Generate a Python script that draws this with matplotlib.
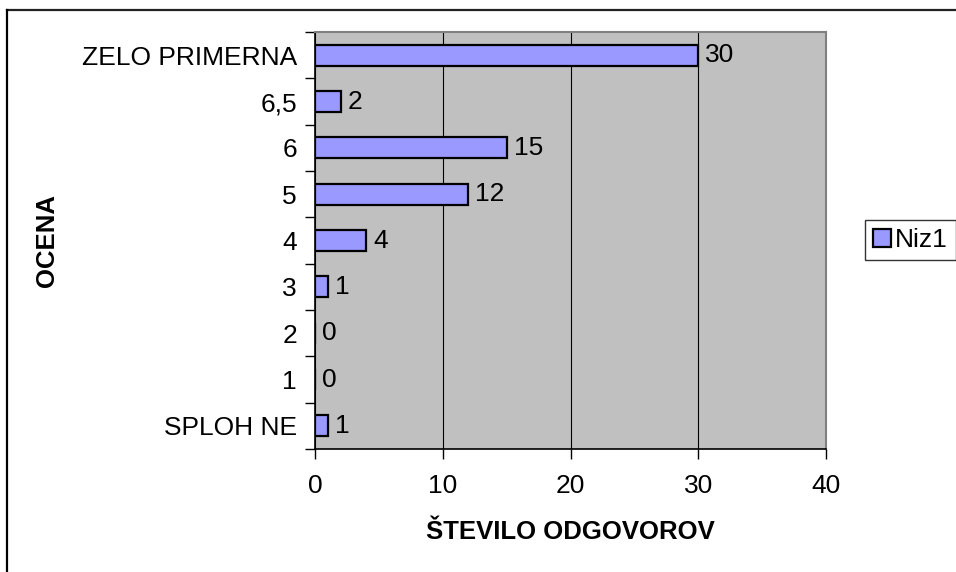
import matplotlib.pyplot as plt
from matplotlib.lines import Line2D

categories = ['SPLOH NE', '1', '2', '3', '4', '5', '6', '6,5', 'ZELO PRIMERNA']
values = [1, 0, 0, 1, 4, 12, 15, 2, 30]
series_name = 'Niz1'
x_ticks = [0, 10, 20, 30, 40]

plt.rcParams['font.family'] = ['Liberation Sans', 'DejaVu Sans']
FS = 19

fig = plt.figure(figsize=(9.56, 5.72), dpi=100)
ax = fig.add_axes([315 / 956, 1 - 449 / 572, 511 / 956, 417 / 572])

ax.set_facecolor('#C0C0C0')
pos = list(range(len(categories)))
bars = ax.barh(pos, values, height=0.45, color='#9999FF', edgecolor='black',
               linewidth=1.6, label=series_name, zorder=3)

for p, v in zip(pos, values):
    ax.annotate(str(v), (v, p), xytext=(5, 0), textcoords='offset points',
                va='center', ha='left', fontsize=FS)

ax.set_xlim(0, 40)
ax.set_ylim(-0.5, len(categories) - 0.5)
ax.set_xticks(x_ticks)
ax.grid(axis='x', color='black', linewidth=0.8, zorder=1)

# category labels between the boundary ticks
ax.set_yticks([i - 0.5 for i in range(len(categories) + 1)])
ax.set_yticklabels([])
ax.set_yticks(pos, minor=True)
ax.set_yticklabels(categories, minor=True, fontsize=FS)
ax.tick_params(axis='y', which='major', length=7, width=1, direction='out')
ax.tick_params(axis='y', which='minor', length=0, pad=13)
ax.tick_params(axis='x', length=7, width=1, direction='out', pad=11, labelsize=FS)

for side in ['top', 'right']:
    ax.spines[side].set_color('#808080')
    ax.spines[side].set_linewidth(1.5)
for side in ['left', 'bottom']:
    ax.spines[side].set_color('black')
    ax.spines[side].set_linewidth(1.2)

ax.set_xlabel('ŠTEVILO ODGOVOROV', fontsize=18.5, fontweight='bold', labelpad=16)
ax.set_ylabel('OCENA', fontsize=18.5, fontweight='bold', labelpad=16)

leg = fig.legend(handles=[bars], labels=[series_name], loc='center left',
                 bbox_to_anchor=(865 / 956, 1 - 240 / 572), fontsize=FS,
                 frameon=True, fancybox=False, handlelength=0.7, handleheight=0.7,
                 handletextpad=0.15, borderpad=0.3, borderaxespad=0)
leg.get_frame().set_edgecolor('black')
leg.get_frame().set_linewidth(1.0)

# outer chart frame (only top and left edges visible)
fig.add_artist(Line2D([7 / 956, 1], [1 - 10 / 572, 1 - 10 / 572],
                      transform=fig.transFigure, color='#222222', linewidth=1.6))
fig.add_artist(Line2D([7 / 956, 7 / 956], [0, 1 - 10 / 572],
                      transform=fig.transFigure, color='black', linewidth=1.6))

fig.savefig('out.png', dpi=100)
